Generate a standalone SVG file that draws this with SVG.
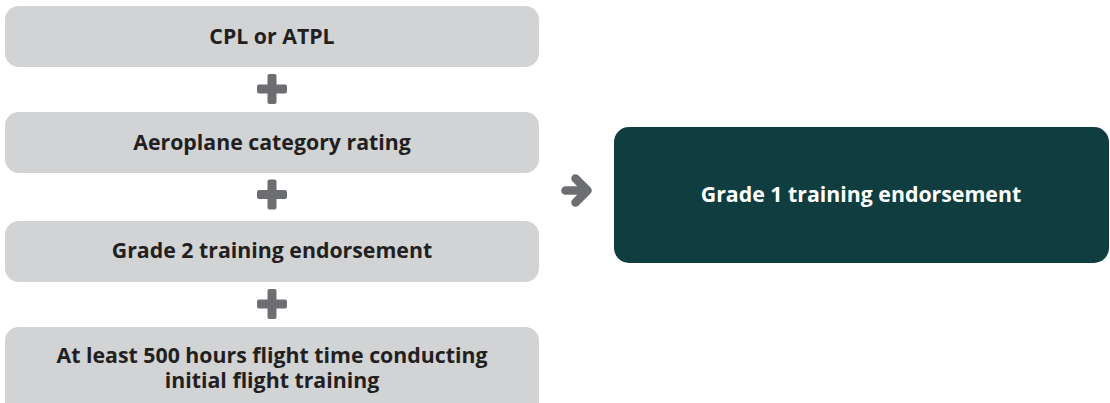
<svg xmlns="http://www.w3.org/2000/svg" width="1110" height="403" viewBox="0 0 1110 403">
  <style>
    .box { fill: #d1d3d4; }
    .dark { fill: #0f3d40; }
    .lbl { font-family: "Open Sans", "Liberation Sans", sans-serif; font-weight: 700; font-size: 21.3px; fill: #231f20; text-anchor: middle; }
    .wlbl { font-family: "Open Sans", "Liberation Sans", sans-serif; font-weight: 700; font-size: 21.3px; fill: #ffffff; text-anchor: middle; }
    .plus { fill: #6d6e71; }
    .arrow { fill: none; stroke: #6d6e71; stroke-width: 8.5; stroke-linecap: round; stroke-linejoin: round; }
  </style>
  <rect width="1110" height="403" fill="#ffffff"/>
  <g id="node-cpl">
    <rect class="box" x="5" y="6" width="534" height="61" rx="14"/>
    <text class="lbl" x="272" y="44">CPL or ATPL</text>
  </g>
  <g id="node-aeroplane">
    <rect class="box" x="5" y="112" width="534" height="61" rx="14"/>
    <text class="lbl" x="272" y="150">Aeroplane category rating</text>
  </g>
  <g id="node-grade2">
    <rect class="box" x="5" y="221" width="534" height="61" rx="14"/>
    <text class="lbl" x="272" y="258">Grade 2 training endorsement</text>
  </g>
  <g id="node-hours">
    <rect class="box" x="5" y="327" width="534" height="90" rx="14"/>
    <text class="lbl" x="272" y="363">At least 500 hours flight time conducting<tspan x="272" y="388">initial flight training</tspan></text>
  </g>
  <g id="node-grade1">
    <rect class="dark" x="614" y="127" width="495" height="136" rx="15"/>
    <text class="wlbl" x="861" y="202">Grade 1 training endorsement</text>
  </g>
  <g id="connectors">
    <g id="plus1">
      <rect class="plus" x="257" y="84.5" width="30" height="9" rx="2"/>
      <rect class="plus" x="267.5" y="74" width="9" height="30" rx="2"/>
    </g>
    <g id="plus2">
      <rect class="plus" x="257" y="190" width="30" height="9" rx="2"/>
      <rect class="plus" x="267.5" y="179.5" width="9" height="30" rx="2"/>
    </g>
    <g id="plus3">
      <rect class="plus" x="257" y="299.5" width="30" height="9" rx="2"/>
      <rect class="plus" x="267.5" y="289" width="9" height="30" rx="2"/>
    </g>
    <g id="arrow">
      <line class="arrow" x1="565.5" y1="190.5" x2="585" y2="190.5"/>
      <polyline class="arrow" points="575.5,178.5 587.5,190.5 575.5,202.5"/>
    </g>
  </g>
</svg>
